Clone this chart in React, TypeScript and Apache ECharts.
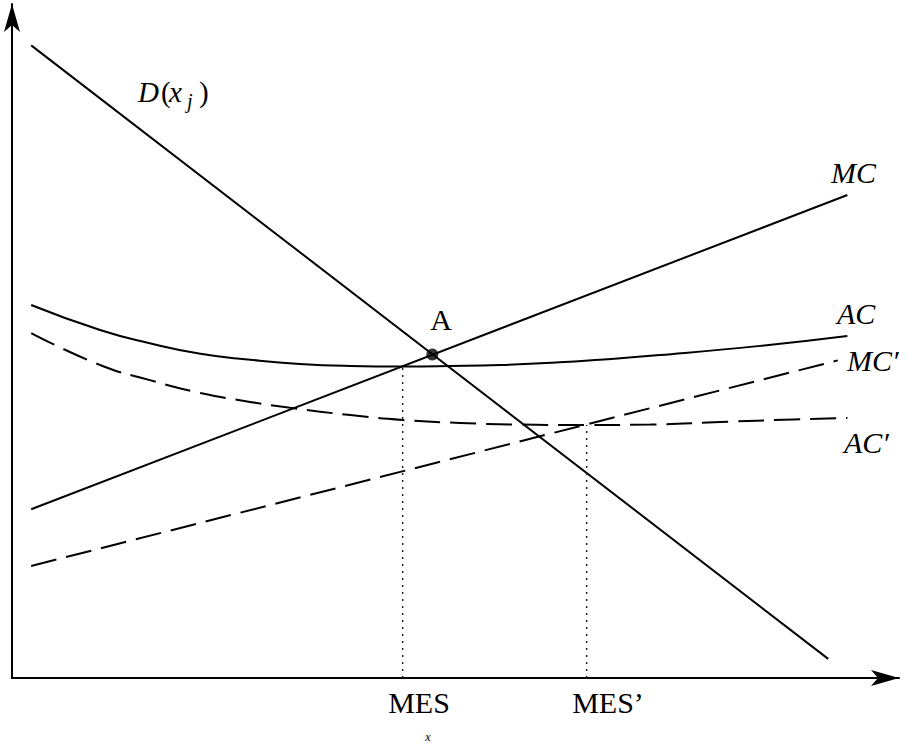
import React, { useEffect, useRef } from "react";
import * as echarts from "echarts";

// Schematic units: x 0..100, y 0..100
const demandD: number[][] = [[2.2, 96.0], [93.6, 2.9]];
const marginalCost: number[][] = [[2.2, 25.6], [95.8, 73.3]];
const marginalCostPrime: number[][] = [[2.2, 17.0], [94.7, 48.2]];
const averageCost: number[][] = [
  [2.2, 56.6], [10.1, 52.8], [15.8, 50.8], [21.6, 49.2], [27.3, 48.3], [33.0, 47.65],
  [38.8, 47.35], [44.8, 47.27], [50.2, 47.34], [56.0, 47.5], [62.8, 47.9], [67.4, 48.3],
  [74.3, 49.0], [85.8, 50.4], [95.8, 51.9],
];
const averageCostPrime: number[][] = [
  [2.2, 52.35], [10.1, 47.5], [15.8, 45.2], [21.6, 43.25], [27.3, 41.9], [31.9, 41.0],
  [38.8, 39.9], [44.8, 39.15], [51.4, 38.7], [57.5, 38.47], [65.9, 38.39], [73.2, 38.47],
  [81.2, 38.85], [89.6, 39.23], [95.8, 39.45],
];
const pointA: number[][] = [[48.2, 49.1]];
const mesLine: number[][] = [[44.8, 0], [44.8, 47.27]];
const mesPrimeLine: number[][] = [[65.9, 0], [65.9, 38.39]];
const tickLabels: string[] = ["MES", "MES\u2019"];

export default function App() {
  const ref = useRef<HTMLDivElement>(null);
  useEffect(() => {
    if (!ref.current) return;
    const chart = echarts.init(ref.current, undefined, { renderer: "svg" });
    const serif = "'Liberation Serif', 'DejaVu Serif', serif";
    const F = 30;
    const solid = { color: "#000", width: 2, type: "solid" as const };
    const dashed = { color: "#000", width: 2, type: [26, 10] as any };
    const dotted = { color: "#222", width: 1.5, type: [2, 5] as any };
    const txt = (text: string, x: number, baseline: number, italic: boolean, align: string, size = F) => ({
      type: "text",
      style: {
        text,
        x,
        y: baseline - 0.34 * size,
        fill: "#000",
        font: `${italic ? "italic " : ""}${size}px ${serif}`,
        textAlign: align,
        textVerticalAlign: "middle",
      },
    });
    const axisLine = {
      show: true,
      onZero: false,
      symbol: ["none", "arrow"],
      symbolSize: [12, 28],
      lineStyle: { color: "#000", width: 2 },
    };
    chart.setOption({
      animation: false,
      backgroundColor: "#fff",
      grid: { left: 12, right: 11, top: 4, bottom: 66 },
      xAxis: {
        type: "value",
        min: 0,
        max: 101.72,
        axisLine,
        axisTick: { show: false },
        axisLabel: { show: false },
        splitLine: { show: false },
      },
      yAxis: {
        type: "value",
        min: 0,
        max: 102.28,
        axisLine,
        axisTick: { show: false },
        axisLabel: { show: false },
        splitLine: { show: false },
      },
      series: [
        { type: "line", data: demandD, symbol: "none", lineStyle: solid },
        { type: "line", data: marginalCost, symbol: "none", lineStyle: solid },
        { type: "line", data: averageCost, symbol: "none", smooth: true, lineStyle: solid },
        { type: "line", data: marginalCostPrime, symbol: "none", lineStyle: dashed },
        { type: "line", data: averageCostPrime, symbol: "none", smooth: true, lineStyle: dashed },
        { type: "line", data: mesLine, symbol: "none", lineStyle: dotted },
        { type: "line", data: mesPrimeLine, symbol: "none", lineStyle: dotted },
        { type: "scatter", data: pointA, symbol: "circle", symbolSize: 12, itemStyle: { color: "#000" }, z: 5 },
      ],
      graphic: [
        txt("D", 138, 102, true, "left", 29),
        txt("(", 161, 102, false, "left", 29),
        txt("x", 169, 102, true, "left", 29),
        txt("j", 187, 108, true, "left", 20),
        txt(")", 199, 102, false, "left", 29),
        txt("MC", 831, 183, true, "left"),
        txt("AC", 837, 324, true, "left"),
        txt("MC\u2032", 847, 371, true, "left"),
        txt("AC\u2032", 844, 453, true, "left"),
        txt("A", 441, 330, false, "center"),
        txt(tickLabels[0], 419, 713, false, "center"),
        txt(tickLabels[1], 608, 713, false, "center"),
        txt("x", 428, 741, true, "center", 12),
      ],
    });
    return () => chart.dispose();
  }, []);
  return <div ref={ref} style={{ position: "absolute", left: 0, top: 0, width: 910, height: 744 }} />;
}
